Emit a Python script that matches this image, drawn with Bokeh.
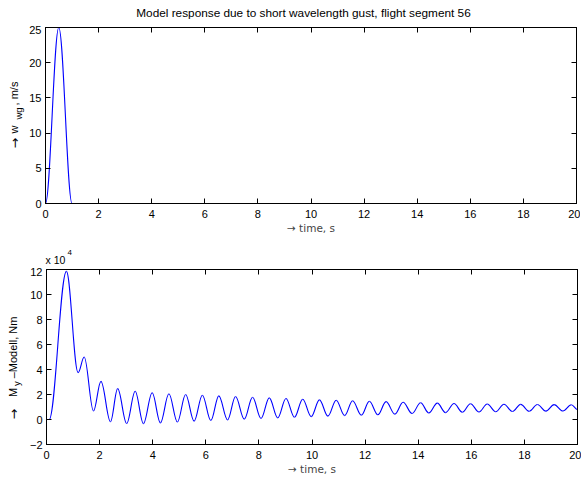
import numpy as np
from bokeh.plotting import figure
from bokeh.models import Range1d, FixedTicker, LinearAxis, Label
from bokeh.layouts import column, row
from bokeh.embed import file_html
from bokeh.resources import INLINE

TITLE = "Model response due to short wavelength gust, flight segment 56"
X_LABEL = "\u2192 time, s"
X_TICKS = [0, 2, 4, 6, 8, 10, 12, 14, 16, 18, 20]

# Gust velocity: extrema (time s, m/s)
GUST_T = [0.0, 0.5, 1.0, 20.0]
GUST_W = [0.0, 25.0, 0.0, 0.0]
W_TICKS = [0, 5, 10, 15, 20, 25]

# Pitching moment: successive extrema (time s, value in 1e4 Nm)
MY_T = [0.0, 0.10, 0.75, 1.19, 1.42, 1.77, 2.05, 2.41, 2.68, 3.02, 3.34, 3.65, 3.98,
        4.29, 4.61, 4.93, 5.24, 5.56, 5.87, 6.19, 6.49, 6.82, 7.12, 7.45, 7.76,
        8.08, 8.39, 8.71, 9.02, 9.34, 9.65, 9.97, 10.28, 10.60, 10.91, 11.23,
        11.53, 11.86, 12.16, 12.48, 12.79, 13.12, 13.43, 13.77, 14.09, 14.40,
        14.72, 15.03, 15.35, 15.66, 15.97, 16.29, 16.60, 16.92, 17.23, 17.55,
        17.86, 18.18, 18.49, 18.81, 19.12, 19.45, 19.77, 20.0]
MY_V = [0.0, 0.0, 11.85, 3.75, 5.0, 0.68, 3.05, -0.18, 2.47, -0.32, 2.26, -0.33, 2.14,
        -0.27, 2.06, -0.20, 2.00, -0.13, 1.94, -0.08, 1.89, -0.03, 1.84, 0.03, 1.78,
        0.08, 1.73, 0.13, 1.68, 0.18, 1.62, 0.23, 1.57, 0.27, 1.54, 0.31,
        1.50, 0.35, 1.46, 0.38, 1.43, 0.43, 1.38, 0.48, 1.34, 0.52,
        1.31, 0.55, 1.28, 0.58, 1.26, 0.60, 1.24, 0.62, 1.22, 0.64,
        1.21, 0.66, 1.20, 0.67, 1.19, 0.68, 1.18, 0.80]
MY_TICKS = [-2, 0, 2, 4, 6, 8, 10, 12]

FONT = "Liberation Sans"
ARROW_FONT = "DejaVu Sans"
FS = "11px"
BLUE = "#0000ff"
W_TOTAL = 580
LAB_W = 26


def make_fig(ymin, ymax, yticks, bottom, fh):
    p = figure(frame_width=531, frame_height=fh, min_border_left=19, min_border_right=4,
               min_border_top=2, min_border_bottom=bottom,
               x_range=Range1d(0, 20), y_range=Range1d(ymin, ymax),
               output_backend="svg", toolbar_location=None, tools="")
    p.grid.visible = False
    p.background_fill_color = "white"
    p.border_fill_color = "white"
    p.outline_line_color = "black"
    p.outline_line_width = 1
    for ax, tk in ((p.xaxis[0], X_TICKS), (p.yaxis[0], yticks)):
        ax.ticker = FixedTicker(ticks=tk)
        ax.major_tick_in = 5
        ax.major_tick_out = 0
        ax.minor_tick_line_color = None
        ax.axis_line_color = "black"
        ax.axis_line_width = 1
        ax.major_label_text_font = FONT
        ax.major_label_text_font_size = FS
        ax.major_label_text_color = "black"
    p.xaxis[0].major_label_standoff = 6
    p.yaxis[0].major_label_standoff = 4
    p.xaxis[0].axis_label = X_LABEL
    p.xaxis[0].axis_label_text_font = ARROW_FONT
    p.xaxis[0].axis_label_text_font_size = "10.5px"
    p.xaxis[0].axis_label_text_font_style = "normal"
    p.xaxis[0].axis_label_standoff = 1
    for loc, tk in (("above", X_TICKS), ("right", yticks)):
        ax = LinearAxis(ticker=FixedTicker(ticks=tk), major_tick_in=5, major_tick_out=0,
                        minor_tick_line_color=None, major_label_text_font_size="1px",
                        major_label_text_color=None, major_label_standoff=0,
                        axis_line_color="black")
        p.add_layout(ax, loc)
    return p


def helper(w, h, yspan=None):
    # yspan: in a row the helper's frame is aligned with the neighbouring plot's frame,
    # so its vertical range is expressed in pixels above that frame's bottom edge
    yspan = h if yspan is None else yspan
    f = figure(width=w, height=h, min_border=0, x_range=Range1d(0, w),
               y_range=Range1d(0, yspan), x_axis_type=None, y_axis_type=None,
               toolbar_location=None, tools="", title=None, output_backend="svg")
    f.grid.visible = False
    f.outline_line_color = None
    f.background_fill_color = "white"
    f.border_fill_color = "white"
    return f


def smooth_line(p, t, v):
    t = np.asarray(t, dtype=float)
    v = np.asarray(v, dtype=float)
    dt = np.diff(t)
    a = 0.3634
    p.bezier(x0=t[:-1], y0=v[:-1], x1=t[1:], y1=v[1:],
             cx0=t[:-1] + a * dt, cy0=v[:-1], cx1=t[1:] - a * dt, cy1=v[1:],
             line_color=BLUE, line_width=1.1)


def lab(f, x, y, text, size=FS, angle=0.0, align="center", font=FONT):
    f.add_layout(Label(x=x, y=y, text=text, angle=angle, text_align=align,
                       text_baseline="middle", text_font=font, text_font_size=size,
                       text_color="black"))


V = np.pi / 2

# Title strip
t_strip = helper(W_TOTAL, 25)
lab(t_strip, 303, 12.5, TITLE, size="11.8px")

# Top: gust velocity
p1 = make_fig(0, 25, W_TICKS, 40, 176)
smooth_line(p1, GUST_T, GUST_W)
y1 = helper(LAB_W, 218, 176)
lab(y1, 13.5, 60.5, "\u2192", size="12.5px", angle=V, font=ARROW_FONT)
lab(y1, 13.5, 74, "w", angle=V)
lab(y1, 17.5, 90, "wg", size="9.5px", angle=V)
lab(y1, 13.5, 110, ", m/s", angle=V)

# Strip with the exponent of the lower axis
e_strip = helper(W_TOTAL, 24)
lab(e_strip, 45, 7.5, "x 10", size="10.5px", align="left")
lab(e_strip, 67, 15, "4", size="8px", align="left")

# Bottom: pitching moment
p2 = make_fig(-2, 12, MY_TICKS, 35, 175)
smooth_line(p2, MY_T, MY_V)
y2 = helper(LAB_W, 212, 175)
lab(y2, 12.5, 30.5, "\u2192", size="12.5px", angle=V, font=ARROW_FONT)
lab(y2, 12.5, 52, "M", angle=V)
lab(y2, 16, 61, "y", size="9.5px", angle=V)
lab(y2, 12.5, 97, "\u2013Modell, Nm", angle=V)

layout = column(t_strip, row(y1, p1, spacing=0), e_strip, row(y2, p2, spacing=0), spacing=0)
open("out.html", "w").write(file_html(layout, INLINE))
